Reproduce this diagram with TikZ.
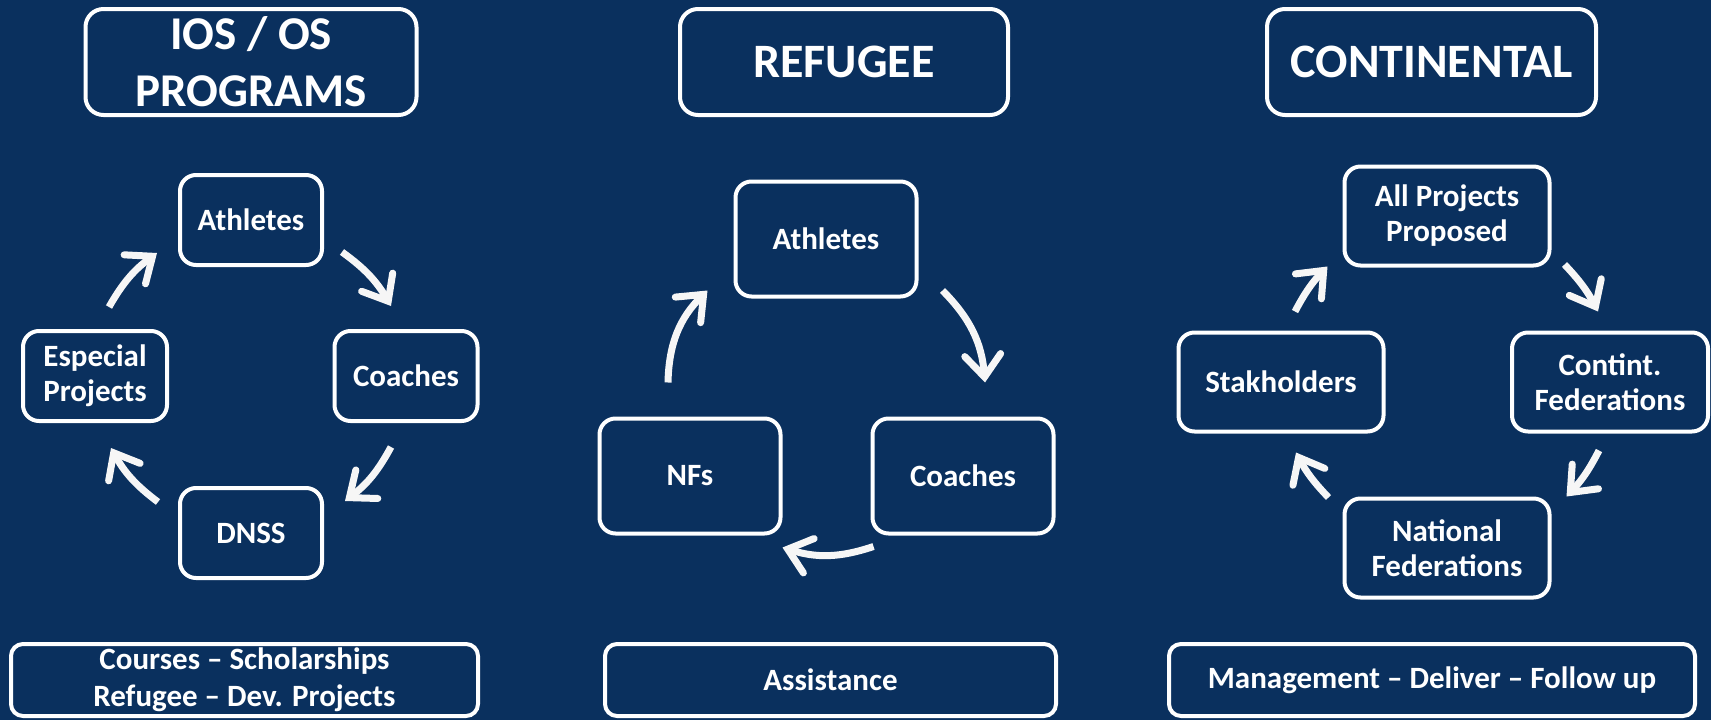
\documentclass[tikz,border=0pt]{standalone}
\usepackage{fontspec}
\setmainfont{Carlito}
\usetikzlibrary{arrows.meta}
\definecolor{bg}{HTML}{0A305E}
\definecolor{arrowc}{HTML}{F6F6F6}
\begin{document}
\begin{tikzpicture}[x=1pt,y=-1pt,
  box/.style={draw=white, line width=4pt, rounded corners=16pt, inner sep=0pt, align=center, text=white, font=\fontsize{31}{35}\selectfont\bfseries},
  title/.style={box, minimum height=106pt, rounded corners=18pt, font=\fontsize{48}{57}\selectfont\bfseries},
  foot/.style={box, minimum height=72pt, rounded corners=12pt, font=\fontsize{31}{37}\selectfont\bfseries},
  small/.style={box, minimum width=142pt, minimum height=90pt},
  mid/.style={box, minimum width=181pt, minimum height=115pt},
  wide/.style={box, minimum width=205pt, minimum height=99pt},
  arr/.style={draw=arrowc, line width=7pt, line cap=butt, -{Straight Barb[length=22pt,width=36pt,line cap=round,line join=miter]}}
]
\fill[bg] (0,0) rectangle (1711,720);
\useasboundingbox (0,0) rectangle (1711,720);

% titles
\node[title, minimum width=331pt, font=\fontsize{47}{57}\selectfont\bfseries] (t1) at (251,62) {IOS / OS\\PROGRAMS};
\node[title, minimum width=328pt] (t2) at (844,62) {REFUGEE};
\node[title, minimum width=329pt] (t3) at (1431.5,62) {CONTINENTAL};

% panel 1
\node[small] (a1) at (251,220) {Athletes};
\node[small, minimum width=143pt] (c1) at (406,376) {Coaches};
\node[small, minimum width=144pt] (e1) at (95,376) {Especial\\Projects};
\node[small] (d1) at (251,533) {DNSS};

% panel 2
\node[mid] (a2) at (826,239) {Athletes};
\node[mid] (n2) at (690,476) {NFs};
\node[mid] (c2) at (963,476) {Coaches};

% panel 3
\node[wide] (p3) at (1447,216) {All Projects\\Proposed};
\node[wide, minimum width=196pt] (f3) at (1610,382) {Contint.\\Federations};
\node[wide] (s3) at (1281,382) {Stakholders};
\node[wide] (n3) at (1447,548) {National\\Federations};

% footers
\node[foot, minimum width=467pt] (b1) at (244.5,680) {Courses – Scholarships\\Refugee – Dev. Projects};
\node[foot, minimum width=451pt] (b2) at (830.5,680) {Assistance};
\node[foot, minimum width=526pt] (b3) at (1432,680) {Management – Deliver – Follow up};

% arrows panel 1
\draw[arr] ([shift={(14,-22)}]e1.north) to[bend left=12] ([shift={(-21,-14)}]a1.south west);
\draw[arr] ([shift={(18,-15)}]a1.south east) to[bend left=12] ([shift={(-15,-23)}]c1.north);
\draw[arr] ([shift={(-15,24)}]c1.south) to[bend left=12] ([shift={(21,15)}]d1.north east);
\draw[arr] ([shift={(-20,16)}]d1.north west) to[bend left=12] ([shift={(16,25)}]e1.south);

% arrows panel 2
\draw[arr] ([shift={(24,-8)}]a2.south east) to[bend left=20] ([shift={(22,-34)}]c2.north);
\draw[arr] ([shift={(3,11)}]c2.south west) to[bend left=18] ([shift={(0,12)}]n2.south east);
\draw[arr] ([shift={(-22,-34)}]n2.north) to[bend left=22] ([shift={(-26,-8)}]a2.south west);

% arrows panel 3
\draw[arr] ([shift={(14,-19)}]s3.north) to[bend left=8] ([shift={(-15,-1)}]p3.south west);
\draw[arr] ([shift={(13,-3)}]p3.south east) to[bend left=8] ([shift={(-12,-19)}]f3.north);
\draw[arr] ([shift={(-11,17)}]f3.south) to[bend left=8] ([shift={(15,0)}]n3.north east);
\draw[arr] ([shift={(-14,1)}]n3.north west) to[bend left=8] ([shift={(15,19)}]s3.south);
\end{tikzpicture}
\end{document}
